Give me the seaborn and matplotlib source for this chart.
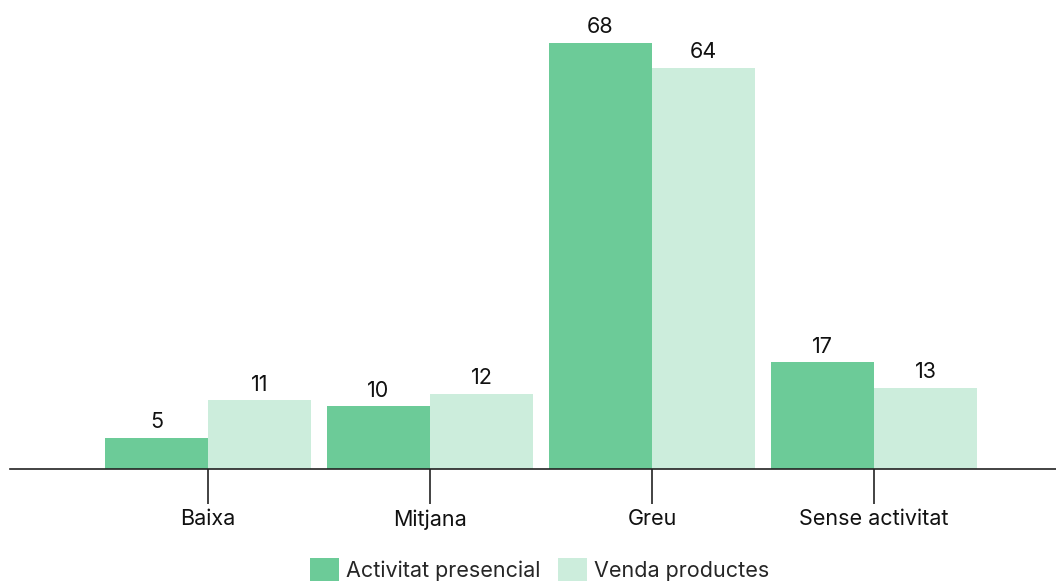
import matplotlib
matplotlib.use("Agg")
import matplotlib.pyplot as plt
import seaborn as sns
import pandas as pd

# data
categories = ["Baixa", "Mitjana", "Greu", "Sense activitat"]
presencial = [5, 10, 68, 17]
venda = [11, 12, 64, 13]
series_names = ["Activitat presencial", "Venda productes"]
colors = ["#6CCB98", "#CCEDDC"]

df = pd.DataFrame({
    "Categoria": categories * 2,
    "Valor": presencial + venda,
    "Serie": [series_names[0]] * len(categories) + [series_names[1]] * len(categories),
})

sns.set_style("white")
plt.rcParams["font.family"] = ["Inter", "DejaVu Sans"]

fig = plt.figure(figsize=(10.56, 5.81), dpi=100)
ax = fig.add_axes([10 / 1056, 112 / 581, 1046 / 1056, 469 / 581])

sns.barplot(
    data=df, x="Categoria", y="Valor", hue="Serie",
    palette=colors, width=0.928, gap=0, saturation=1,
    linewidth=0, ax=ax, legend=True,
)

for cont in ax.containers:
    ax.bar_label(cont, padding=4, fontsize=15.5, color="#111111")

ax.set_xlim(-0.892, 3.82)
ax.set_ylim(0, 74.86)
ax.set_xlabel("")
ax.set_ylabel("")
ax.set_yticks([])
for side in ["top", "right", "left"]:
    ax.spines[side].set_visible(False)
ax.spines["bottom"].set_color("#222222")
ax.spines["bottom"].set_linewidth(1.2)
ax.tick_params(axis="x", bottom=True, direction="out", length=25, width=1.2,
               color="#222222", labelsize=15.5, labelcolor="#111111", pad=4)

handles, labels = ax.get_legend_handles_labels()
ax.get_legend().remove()
fig.legend(handles, labels, loc="upper center", bbox_to_anchor=(0.511, 0.055),
           ncol=2, frameon=False, fontsize=15.5, handlelength=1.35,
           handleheight=1.35, handletextpad=0.3, columnspacing=0.85,
           borderaxespad=0)

fig.savefig("out.png", dpi=100)
